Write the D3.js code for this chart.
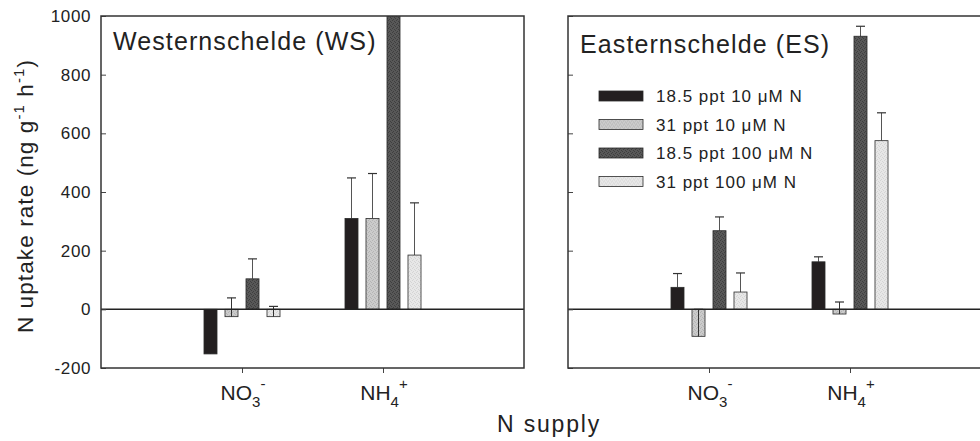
<!DOCTYPE html>
<html>
<head>
<meta charset="utf-8">
<script src="https://cdn.jsdelivr.net/npm/d3@7"></script>
<style>
  body { margin: 0; background: #fff; }
  svg { display: block; font-family: "Liberation Sans", Arial, sans-serif; }
</style>
</head>
<body>
<div class="chart"></div>
<script>
// data (ng g-1 h-1), error bars = mean + SE
const series = ['18.5 ppt 10 \u03bcM N', '31 ppt 10 \u03bcM N', '18.5 ppt 100 \u03bcM N', '31 ppt 100 \u03bcM N'];
const categories = ['NO3', 'NH4'];
const yTicks = [-200, 0, 200, 400, 600, 800, 1000];

const wsNitrate = [-152, -25, 104, -25];
const wsNitrateSE = [30, 64, 68, 35];
const wsAmmonium = [310, 310, 1150, 185];
const wsAmmoniumSE = [138, 153, 0, 178];

const esNitrate = [75, -92, 268, 59];
const esNitrateSE = [47, 76, 47, 65];
const esAmmonium = [162, -16, 931, 575];
const esAmmoniumSE = [17, 41, 34, 95];

const width = 980;
const height = 441;
const plotTop = 16, plotBottom = 368;

const svg = d3.select('.chart').append('svg')
  .attr('width', width)
  .attr('height', height);

// fill patterns to mimic the stippled print
const defs = svg.append('defs');
const fills = [
  { id: 'p0', base: '#231f20', dot: '#231f20' },
  { id: 'p1', base: '#cbcbcb', dot: '#b4b4b4' },
  { id: 'p2', base: '#585858', dot: '#3f3f3f' },
  { id: 'p3', base: '#e7e7e7', dot: '#d4d4d4' }
];
const dots = [[0, 0], [2, 1], [1, 3], [3, 2]];
fills.forEach(f => {
  const p = defs.append('pattern')
    .attr('id', f.id)
    .attr('width', 4).attr('height', 4)
    .attr('patternUnits', 'userSpaceOnUse');
  p.append('rect').attr('width', 4).attr('height', 4).attr('fill', f.base);
  dots.forEach(d => {
    p.append('rect').attr('x', d[0]).attr('y', d[1]).attr('width', 1).attr('height', 1).attr('fill', f.dot);
  });
});

const yScale = d3.scaleLinear().domain([-200, 1000]).range([plotBottom, plotTop]);
const inner = d3.scaleBand().domain(d3.range(4)).range([-42, 42]).paddingInner(0.38).paddingOuter(0.19);

function panel(id, x0, x1, title, titleY, nitrate, nitrateSE, ammonium, ammoniumSE, showLabels) {
  const xScale = d3.scaleLinear().domain([0, 3]).range([x0, x1]);
  const g = svg.append('g');

  defs.append('clipPath').attr('id', 'clip-' + id)
    .append('rect').attr('x', x0).attr('y', plotTop).attr('width', x1 - x0).attr('height', plotBottom - plotTop);

  const plot = g.append('g').attr('clip-path', 'url(#clip-' + id + ')');

  const groups = [
    { pos: 1, means: nitrate, se: nitrateSE },
    { pos: 2, means: ammonium, se: ammoniumSE }
  ];

  groups.forEach(grp => {
    const cx = xScale(grp.pos);
    // error bars (drawn upward from bar end)
    grp.means.forEach((v, i) => {
      if (!grp.se[i]) return;
      const bx = cx + inner(i) + inner.bandwidth() / 2;
      plot.append('line')
        .attr('x1', bx).attr('x2', bx)
        .attr('y1', yScale(v)).attr('y2', yScale(v + grp.se[i]))
        .attr('stroke', '#555').attr('stroke-width', 1);
      plot.append('line')
        .attr('x1', bx - 4.5).attr('x2', bx + 4.5)
        .attr('y1', yScale(v + grp.se[i])).attr('y2', yScale(v + grp.se[i]))
        .attr('stroke', '#333').attr('stroke-width', 1.2);
    });
    plot.selectAll(null)
      .data(grp.means)
      .enter()
      .append('rect')
      .attr('x', (d, i) => cx + inner(i))
      .attr('y', d => yScale(Math.max(0, d)))
      .attr('width', inner.bandwidth())
      .attr('height', d => Math.abs(yScale(d) - yScale(0)))
      .attr('fill', (d, i) => 'url(#p' + i + ')')
      .attr('stroke', '#2a2a2a')
      .attr('stroke-width', 0.8);
    // negative bars: error line shows through
    grp.means.forEach((v, i) => {
      if (v >= 0 || !grp.se[i] || i === 0) return;
      const bx = cx + inner(i) + inner.bandwidth() / 2;
      const yEnd = Math.min(yScale(v + grp.se[i]), yScale(0));
      plot.append('line')
        .attr('x1', bx).attr('x2', bx)
        .attr('y1', yScale(v)).attr('y2', yEnd)
        .attr('stroke', '#333').attr('stroke-width', 1);
      if (v + grp.se[i] < 0) {
        plot.append('line')
          .attr('x1', bx - 4.5).attr('x2', bx + 4.5)
          .attr('y1', yEnd).attr('y2', yEnd)
          .attr('stroke', '#333').attr('stroke-width', 1.2);
      }
    });
  });

  // zero line
  g.append('line')
    .attr('x1', x0).attr('x2', x1)
    .attr('y1', yScale(0)).attr('y2', yScale(0))
    .attr('stroke', '#222').attr('stroke-width', 1.5);

  // y axis ticks inside
  const yAxis = d3.axisRight(yScale).tickValues(yTicks).tickSize(5).tickFormat('');
  g.append('g').attr('transform', 'translate(' + x0 + ',0)').call(yAxis)
    .call(a => a.select('.domain').remove())
    .selectAll('line').attr('stroke', '#444');

  if (showLabels) {
    g.selectAll(null).data(yTicks).enter().append('text')
      .attr('x', x0 - 10)
      .attr('y', d => yScale(d) + 6)
      .attr('text-anchor', 'end')
      .attr('font-size', 17)
      .attr('letter-spacing', 0.6)
      .attr('fill', '#222')
      .text(d => d);
  }

  // x axis ticks outside
  const xAxis = d3.axisBottom(xScale).tickValues([1, 2]).tickSize(5).tickFormat('');
  g.append('g').attr('transform', 'translate(0,' + plotBottom + ')').call(xAxis)
    .call(a => a.select('.domain').remove())
    .selectAll('line').attr('stroke', '#444');

  // category labels with sub/superscripts
  const labels = [['NO', '3', '-'], ['NH', '4', '+']];
  labels.forEach((l, i) => {
    const t = g.append('text')
      .attr('x', xScale(i + 1) + 1)
      .attr('y', 400)
      .attr('text-anchor', 'middle')
      .attr('font-size', 21)
      .attr('fill', '#222');
    t.append('tspan').text(l[0]);
    t.append('tspan').attr('dy', 7).attr('font-size', 15).text(l[1]);
    t.append('tspan').attr('dy', -18).attr('font-size', 15).text(l[2]);
  });

  // frame
  g.append('rect')
    .attr('x', x0).attr('y', plotTop)
    .attr('width', x1 - x0).attr('height', plotBottom - plotTop)
    .attr('fill', 'none').attr('stroke', '#333').attr('stroke-width', 1.5);

  g.append('text')
    .attr('x', x0 + 12)
    .attr('y', titleY)
    .attr('font-size', 25)
    .attr('letter-spacing', 1.1)
    .attr('fill', '#222')
    .text(title);

  return g;
}

panel('ws', 101, 524, 'Westernschelde (WS)', 50, wsNitrate, wsNitrateSE, wsAmmonium, wsAmmoniumSE, true);
panel('es', 568, 991, 'Easternschelde (ES)', 53, esNitrate, esNitrateSE, esAmmonium, esAmmoniumSE, false);

// legend
const legend = svg.append('g').attr('transform', 'translate(599,96)');
series.forEach((s, i) => {
  const row = legend.append('g').attr('transform', 'translate(0,' + (i * 28.5) + ')');
  row.append('rect')
    .attr('x', 0).attr('y', -5)
    .attr('width', 44).attr('height', 10)
    .attr('fill', 'url(#p' + i + ')')
    .attr('stroke', '#2a2a2a').attr('stroke-width', 0.8);
  row.append('text')
    .attr('x', 57).attr('y', 6)
    .attr('font-size', 17)
    .attr('letter-spacing', 1)
    .attr('fill', '#222')
    .text(s);
});

// axis titles
const yTitle = svg.append('text')
  .attr('transform', 'translate(33,' + ((plotTop + plotBottom) / 2 + 4) + ') rotate(-90)')
  .attr('text-anchor', 'middle')
  .attr('font-size', 22.5)
  .attr('letter-spacing', 1.1)
  .attr('fill', '#222');
yTitle.append('tspan').text('N uptake rate (ng g');
yTitle.append('tspan').attr('dy', -9).attr('font-size', 15).text('-1');
yTitle.append('tspan').attr('dy', 9).text(' h');
yTitle.append('tspan').attr('dy', -9).attr('font-size', 15).text('-1');
yTitle.append('tspan').attr('dy', 9).text(')');

svg.append('text')
  .attr('x', 549)
  .attr('y', 432)
  .attr('text-anchor', 'middle')
  .attr('font-size', 23)
  .attr('letter-spacing', 1.8)
  .attr('fill', '#222')
  .text('N supply');
</script>
</body>
</html>
